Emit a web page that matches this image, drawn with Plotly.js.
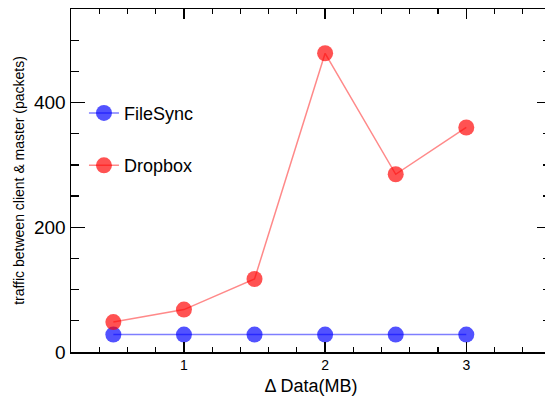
<!DOCTYPE html>
<html>
<head>
<meta charset="utf-8">
<script src="https://cdn.plot.ly/plotly-3.0.1.min.js"></script>
<style>
html,body{margin:0;padding:0;overflow:hidden;background:#fff;}
#chart{width:551px;height:396px;}
</style>
</head>
<body>
<div id="chart"></div>
<script>
const deltaData = [0.5, 1, 1.5, 2, 2.5, 3];
const fileSync = [28, 28, 28, 28, 28, 28];
const dropbox = [48, 68, 117, 479, 285, 360];
const seriesNames = ["FileSync", "Dropbox"];
const xTickVals = [1, 2, 3];
const yTickVals = [0, 200, 400];

const font = "Liberation Sans, Arial, Helvetica, sans-serif";

const traces = [
  {
    x: deltaData, y: fileSync, name: seriesNames[0], legendgroup: "a",
    type: "scatter", mode: "lines+markers",
    line: {color: "rgba(40,40,255,0.6)", width: 1.5},
    marker: {color: "rgba(0,0,255,0.68)", size: 16}
  },
  {
    x: deltaData, y: dropbox, name: seriesNames[1], legendgroup: "b",
    type: "scatter", mode: "lines+markers",
    line: {color: "rgba(255,40,40,0.55)", width: 1.5},
    marker: {color: "rgba(255,0,0,0.68)", size: 16}
  }
];

const layout = {
  width: 551, height: 396,
  margin: {l: 71, r: 0, t: 9, b: 44},
  paper_bgcolor: "#fff", plot_bgcolor: "#fff",
  font: {family: font, color: "#000"},
  showlegend: true,
  legend: {
    x: 0.027, y: 0.75, xanchor: "left", yanchor: "top",
    font: {size: 18, family: font},
    traceorder: "grouped", tracegroupgap: 26,
    bgcolor: "rgba(0,0,0,0)", itemwidth: 30
  },
  xaxis: {
    range: [0.2, 3.6],
    tickvals: xTickVals, ticktext: xTickVals.map(String),
    ticks: "inside", ticklen: 10, tickwidth: 1.5, tickcolor: "#000",
    minor: {dtick: 0.2, tick0: 0, ticks: "inside", ticklen: 5, tickwidth: 1.2, tickcolor: "#000"},
    showline: true, linecolor: "#000", linewidth: 1.5, mirror: "ticks",
    showgrid: false, zeroline: false,
    tickfont: {size: 14, family: font},
    title: {text: "\u0394 Data(MB)", font: {size: 18, family: font}, standoff: 8}
  },
  yaxis: {
    range: [0, 550],
    tickvals: yTickVals, ticktext: yTickVals.map(String),
    ticks: "inside", ticklen: 14, tickwidth: 1.5, tickcolor: "#000",
    minor: {dtick: 50, tick0: 0, ticks: "inside", ticklen: 8, tickwidth: 1.2, tickcolor: "#000"},
    showline: true, linecolor: "#000", linewidth: 1.5, mirror: "ticks",
    showgrid: false, zeroline: false,
    tickfont: {size: 19, family: font},
    title: {text: "traffic between client & master (packets)", font: {size: 14, family: font}, standoff: 6}
  }
};

Plotly.newPlot("chart", traces, layout, {displayModeBar: false, staticPlot: true});
</script>
</body>
</html>
